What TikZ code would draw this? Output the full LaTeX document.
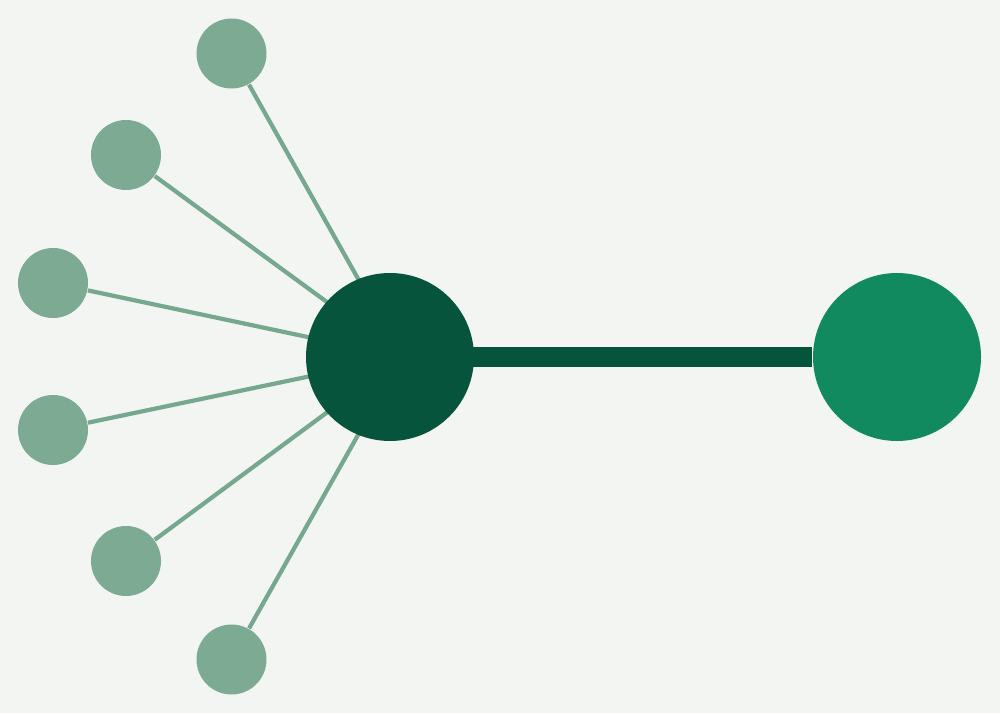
\documentclass[tikz,border=0pt]{standalone}
\usepackage{tikz}
\usetikzlibrary{positioning,calc}
\definecolor{bgcol}{HTML}{F3F5F2}
\definecolor{hubcol}{HTML}{07543C}
\definecolor{targetcol}{HTML}{128A60}
\definecolor{leafcol}{HTML}{7CAA93}
\definecolor{spokecol}{HTML}{76A78F}
\tikzset{
    hub/.style={circle, fill=hubcol, minimum size=1.68cm, inner sep=0pt},
    target/.style={circle, fill=targetcol, minimum size=1.68cm, inner sep=0pt},
    leaf/.style={circle, fill=leafcol, minimum size=0.70cm, inner sep=0pt},
    spoke/.style={draw=spokecol, line width=1.2pt},
    link/.style={draw=hubcol, line width=5.7pt, shorten <=-1.5pt}
}

\begin{document}
\begin{tikzpicture}
\fill[bgcol] (0,0) rectangle (10,7.13);
\useasboundingbox (0,0) rectangle (10,7.13);

\foreach \i/\x/\y in {1/2.315/6.595, 2/1.26/5.58, 3/0.53/4.30, 4/0.53/2.83, 5/1.26/1.52, 6/2.315/0.535}
    \node[leaf] (L\i) at (\x,\y) {};

% spokes meet a little right of the hub centre, hidden under the hub
\coordinate (focus) at (4.02,3.56);
\foreach \i in {1,...,6}
    \draw[spoke] (L\i) -- (focus);

\node[hub] (H) at (3.90,3.56) {};
\node[target] (G) at (8.97,3.56) {};
\draw[link] (H) -- (G);
\end{tikzpicture}
\end{document}
